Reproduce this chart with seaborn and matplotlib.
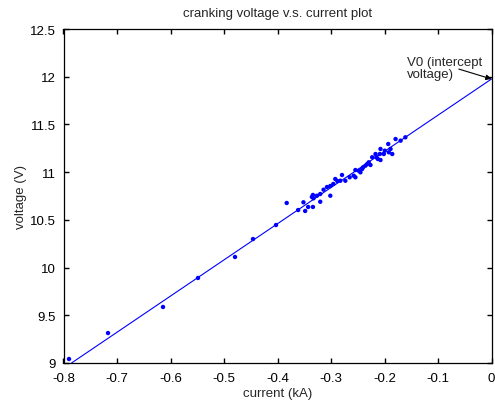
import matplotlib
matplotlib.use("Agg")
import matplotlib.pyplot as plt
import seaborn as sns
import pandas as pd

current_kA = [-0.7897, -0.7168, -0.6140, -0.5486, -0.4794, -0.4458, -0.4028, -0.3828,
              -0.3614, -0.3515, -0.3483, -0.3427, -0.3338, -0.3357, -0.3338, -0.3263,
              -0.3201, -0.3201, -0.3139, -0.3075, -0.3013, -0.3013, -0.2957, -0.2920,
              -0.2882, -0.2826, -0.2794, -0.2732, -0.2651, -0.2576, -0.2544, -0.2544,
              -0.2482, -0.2450, -0.2418, -0.2400, -0.2356, -0.2324, -0.2294, -0.2262,
              -0.2230, -0.2168, -0.2150, -0.2125, -0.2088, -0.2075, -0.2075, -0.2013,
              -0.1994, -0.1930, -0.1919, -0.1887, -0.1855, -0.1793, -0.1699, -0.1610,
              -0.3327]
voltage_V = [9.042, 9.314, 9.587, 9.891, 10.111, 10.299, 10.446, 10.677,
             10.603, 10.684, 10.593, 10.635, 10.635, 10.740, 10.761, 10.753,
             10.690, 10.771, 10.816, 10.844, 10.753, 10.855, 10.876, 10.928,
             10.907, 10.910, 10.970, 10.910, 10.946, 10.963, 11.022, 10.946,
             11.015, 10.998, 11.033, 11.051, 11.068, 11.085, 11.103, 11.075,
             11.156, 11.190, 11.156, 11.138, 11.190, 11.243, 11.127, 11.190,
             11.225, 11.295, 11.208, 11.243, 11.190, 11.347, 11.330, 11.365,
             10.726]

fit_x = [-0.785, 0.0]
fit_y = [9.0, 11.976]

x_ticks = [-0.8, -0.7, -0.6, -0.5, -0.4, -0.3, -0.2, -0.1, 0]
x_labels = ["-0.8", "-0.7", "-0.6", "-0.5", "-0.4", "-0.3", "-0.2", "-0.1", "0"]
y_ticks = [9, 9.5, 10, 10.5, 11, 11.5, 12, 12.5]
y_labels = ["9", "9.5", "10", "10.5", "11", "11.5", "12", "12.5"]

sns.set_theme(style="white")
plt.rcParams['font.family'] = ['Liberation Sans', 'DejaVu Sans']

fig = plt.figure(figsize=(4.95, 4.02), dpi=100)
ax = fig.add_axes([63.5/495, 38/402, 428/495, 334/402])

pts = pd.DataFrame({"current": current_kA, "voltage": voltage_V})
fit = pd.DataFrame({"current": fit_x, "voltage": fit_y})

sns.lineplot(data=fit, x="current", y="voltage", ax=ax, color="#0000ff", linewidth=0.8)
sns.scatterplot(data=pts, x="current", y="voltage", ax=ax, color="#0000ff",
                s=10, edgecolor="none", linewidth=0)

ax.set_xlim(-0.8, 0)
ax.set_ylim(9, 12.5)
ax.set_xticks(x_ticks)
ax.set_xticklabels(x_labels)
ax.set_yticks(y_ticks)
ax.set_yticklabels(y_labels)
ax.tick_params(length=0, labelsize=9.5, labelcolor="black")
ax.tick_params(axis="x", pad=6.5)
ax.tick_params(axis="y", pad=5.5)

# inward MATLAB-style tick marks on all four sides
tx = ax.get_xaxis_transform()
ty = ax.get_yaxis_transform()
tick_len_y = 5 / 334
tick_len_x = 5 / 428
ax.vlines(x_ticks, 0, tick_len_y, transform=tx, color="black", lw=1.0,
          clip_on=False, zorder=5)
ax.vlines(x_ticks, 1 - tick_len_y, 1, transform=tx, color="black", lw=1.0,
          clip_on=False, zorder=5)
ax.hlines(y_ticks, 0, tick_len_x, transform=ty, color="black", lw=1.0,
          clip_on=False, zorder=5)
ax.hlines(y_ticks, 1 - tick_len_x, 1, transform=ty, color="black", lw=1.0,
          clip_on=False, zorder=5)

for sp in ax.spines.values():
    sp.set_visible(True)
    sp.set_color("black")
    sp.set_linewidth(0.9)
ax.set_xlabel("current (kA)", fontsize=9.5, labelpad=2)
ax.set_ylabel("voltage (V)", fontsize=9.5, labelpad=2)
ax.set_title("cranking voltage v.s. current plot", fontsize=9.5, pad=9)

ax.text(-0.158, 12.09, "V0 (intercept\nvoltage)", fontsize=9.5, ha="left",
        va="center", linespacing=1.05)
ax.annotate("", xy=(0, 11.976), xytext=(-0.061, 12.08),
            arrowprops=dict(arrowstyle="-|>", color="black", lw=0.8,
                            mutation_scale=8, shrinkA=0, shrinkB=0),
            annotation_clip=False)

fig.savefig("out.png", dpi=100)
